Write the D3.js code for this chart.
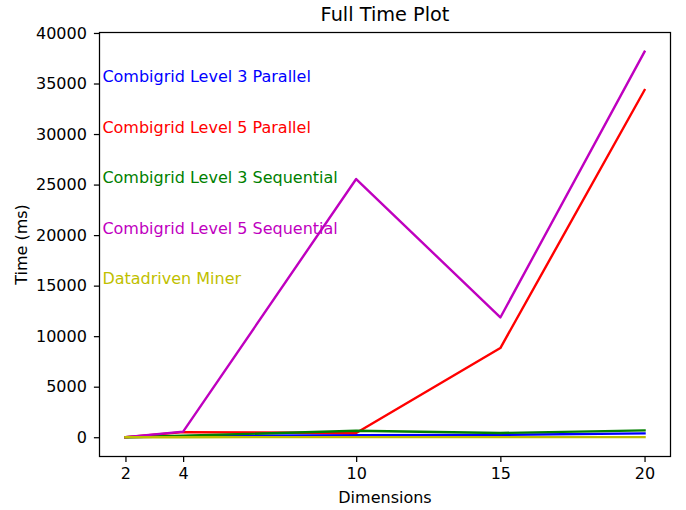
<!DOCTYPE html>
<html>
<head>
<meta charset="utf-8">
<script src="https://cdn.jsdelivr.net/npm/d3@7"></script>
<style>
  html, body { margin: 0; padding: 0; background: #fff; }
  svg { display: block; font-family: "DejaVu Sans", sans-serif; }
</style>
</head>
<body>
<svg id="chart" width="686" height="510"></svg>
<script>
// Problem dimensions on the x axis
const dimensions = [2, 4, 10, 15, 20];

// Runtime in milliseconds per method
const level3Parallel   = [0, 100, 200, 230, 380];
const level5Parallel   = [0, 500, 420, 8820, 34350];
const level3Sequential = [0, 150, 640, 420, 680];
const level5Sequential = [0, 550, 25550, 11850, 38150];
const datadrivenMiner  = [0, 5, 10, 12, 15];

const seriesNames  = ["Combigrid Level 3 Parallel", "Combigrid Level 5 Parallel",
                      "Combigrid Level 3 Sequential", "Combigrid Level 5 Sequential",
                      "Datadriven Miner"];
const seriesValues = [level3Parallel, level5Parallel, level3Sequential, level5Sequential, datadrivenMiner];
const seriesColors = ["#0000ff", "#ff0000", "#008000", "#bf00bf", "#bfbf00"];
// Label anchor heights (data units) for the in-plot series names
const labelY = [35000, 30000, 25000, 20000, 15000];
const labelX = 1.2;

const xTicks = [2, 4, 10, 15, 20];
const yTicks = [0, 5000, 10000, 15000, 20000, 25000, 30000, 35000, 40000];

const svg = d3.select("#chart");
const plotLeft = 99.5, plotRight = 670.5, plotTop = 32.5, plotBottom = 456.5;

const x = d3.scaleLinear().domain([1.1, 20.9]).range([plotLeft, plotRight]);
const y = d3.scaleLinear().domain([-1907, 40047]).range([plotBottom, plotTop]);

const fs = 16;

// Axes
const xAxis = svg.append("g")
  .attr("transform", `translate(0,${plotBottom})`)
  .call(d3.axisBottom(x).tickValues(xTicks).tickSize(5.6).tickPadding(5.4).tickSizeOuter(0));
const yAxis = svg.append("g")
  .attr("transform", `translate(${plotLeft},0)`)
  .call(d3.axisLeft(y).tickValues(yTicks).tickFormat(d3.format("d")).tickSize(5.6).tickPadding(7).tickSizeOuter(0));
[xAxis, yAxis].forEach(g => {
  g.select(".domain").remove();
  g.selectAll("line").attr("stroke", "#000").attr("stroke-width", 1.25);
  g.selectAll("text").attr("font-size", fs).attr("fill", "#000")
    .attr("font-family", "DejaVu Sans, sans-serif");
});

// Series lines
const line = d3.line().x((d, i) => x(dimensions[i])).y(d => y(d));
seriesValues.forEach((vals, k) => {
  svg.append("path")
    .datum(vals)
    .attr("d", line)
    .attr("fill", "none")
    .attr("stroke", seriesColors[k])
    .attr("stroke-width", 2.4)
    .attr("stroke-linejoin", "round")
    .attr("stroke-linecap", "square");
});

// Series name labels inside the plot
seriesNames.forEach((name, k) => {
  svg.append("text")
    .attr("x", x(labelX))
    .attr("y", y(labelY[k]))
    .attr("dy", -1.5)
    .attr("font-size", fs)
    .attr("fill", seriesColors[k])
    .text(name);
});

// Frame
svg.append("rect")
  .attr("x", plotLeft).attr("y", plotTop)
  .attr("width", plotRight - plotLeft).attr("height", plotBottom - plotTop)
  .attr("fill", "none").attr("stroke", "#000").attr("stroke-width", 1.25);

// Title and axis labels
svg.append("text")
  .attr("x", (plotLeft + plotRight) / 2).attr("y", 21.3)
  .attr("text-anchor", "middle").attr("font-size", 19.3).attr("fill", "#000")
  .text("Full Time Plot");
svg.append("text")
  .attr("x", (plotLeft + plotRight) / 2).attr("y", 503)
  .attr("text-anchor", "middle").attr("font-size", fs).attr("fill", "#000")
  .text("Dimensions");
svg.append("text")
  .attr("transform", `translate(26.5,${(plotTop + plotBottom) / 2}) rotate(-90)`)
  .attr("text-anchor", "middle").attr("font-size", fs).attr("fill", "#000")
  .text("Time (ms)");
</script>
</body>
</html>
